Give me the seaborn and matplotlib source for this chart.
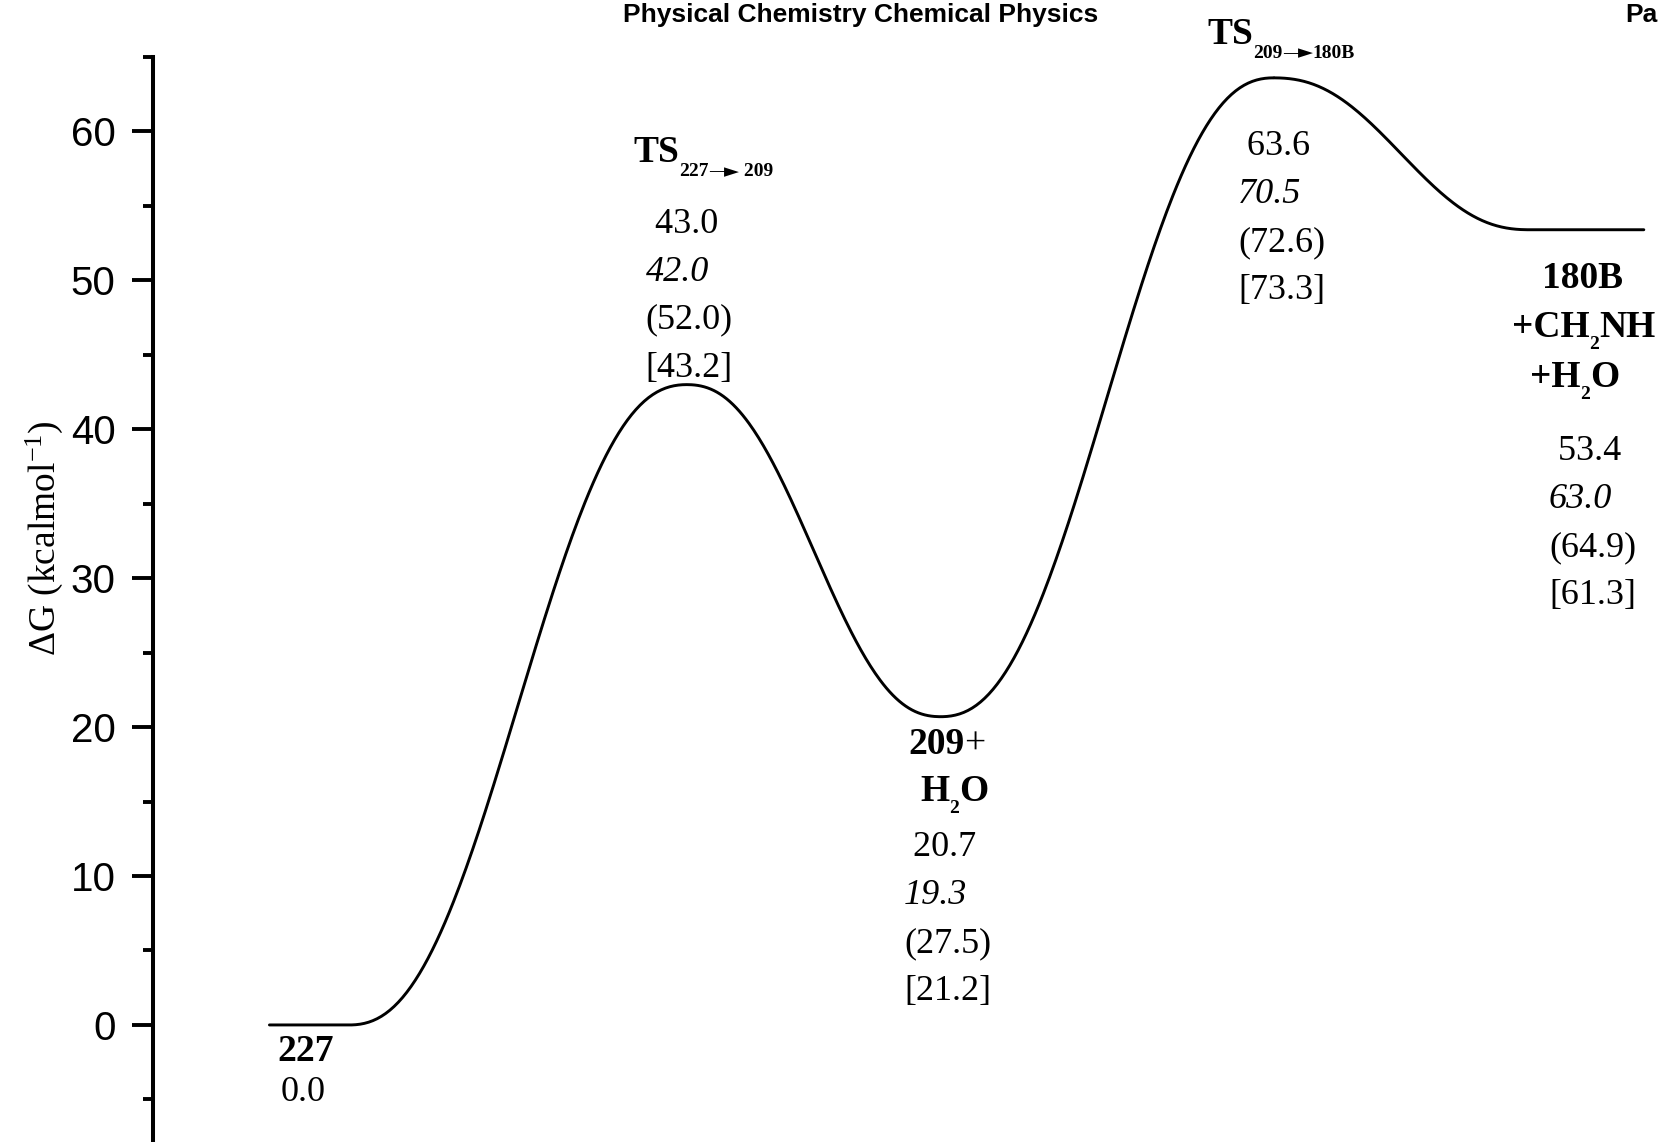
import numpy as np
import pandas as pd
import matplotlib
matplotlib.use("Agg")
import matplotlib.pyplot as plt
import seaborn as sns
from matplotlib.ticker import MultipleLocator

# Free-energy levels (kcal/mol) of the stationary points along the path
energy = [0.0, 43.0, 20.7, 63.6, 53.4]
energy_italic = [None, 42.0, 19.3, 70.5, 63.0]
energy_paren = [None, 52.0, 27.5, 72.6, 64.9]
energy_bracket = [None, 43.2, 21.2, 73.3, 61.3]

# Reaction-coordinate knots of the profile: flat start, TS1, intermediate, TS2, flat end
reaction_coord = [0.77, 1.30, 3.53, 5.21, 7.41, 9.10, 9.86]
profile_energy = [energy[0], energy[0], energy[1], energy[2], energy[3], energy[4], energy[4]]

yticks = [0, 10, 20, 30, 40, 50, 60]

SERIF = ["Liberation Serif", "DejaVu Serif"]
SANS = ["Liberation Sans", "DejaVu Sans"]
SYMBOL = ["DejaVu Sans"]

sns.set_theme(style="ticks")
plt.rcParams["font.family"] = SANS
plt.rcParams["mathtext.fontset"] = "custom"
plt.rcParams["mathtext.rm"] = "Liberation Serif"
plt.rcParams["mathtext.it"] = "Liberation Serif:italic"
plt.rcParams["mathtext.bf"] = "Liberation Serif:bold"

W, H, DPI = 1665, 1142, 100
fig = plt.figure(figsize=(W / DPI, H / DPI), dpi=DPI, facecolor="white")
ax = fig.add_axes([153 / W, 0.0, 1512 / W, 1085 / H])
ax.set_facecolor("white")


def smooth_path(xk, yk, n=160):
    """Join consecutive knots with an S-shaped easing so each level is a smooth extremum."""
    xs, ys = [], []
    for i in range(len(xk) - 1):
        t = np.linspace(0, 1, n)
        s5 = t ** 3 * (t * (6 * t - 15) + 10)
        s3 = t * t * (3 - 2 * t)
        s = 0.65 * s5 + 0.35 * s3
        xs.append(xk[i] + t * (xk[i + 1] - xk[i]))
        ys.append(yk[i] + s * (yk[i + 1] - yk[i]))
    return np.concatenate(xs), np.concatenate(ys)


px, py = smooth_path(reaction_coord, profile_energy)
profile = pd.DataFrame({"coord": px, "dG": py})
sns.lineplot(data=profile, x="coord", y="dG", color="black", linewidth=2.1,
             sort=False, estimator=None, ax=ax)

ax.set_xlim(0, 10)
ax.set_ylim(-7.86, 65)
for side in ("top", "right", "bottom"):
    ax.spines[side].set_visible(False)
ax.spines["left"].set_linewidth(2.9)
ax.spines["left"].set_color("black")
ax.set_xticks([])
ax.set_xlabel("")
ax.set_yticks(yticks)
ax.yaxis.set_minor_locator(MultipleLocator(5))
ax.tick_params(axis="y", which="major", direction="out", length=15, width=2.8,
               pad=12, labelsize=29, colors="black")
ax.tick_params(axis="y", which="minor", direction="out", length=7.5, width=2.8,
               colors="black")
for lab in ax.get_yticklabels():
    lab.set_family(SANS)

ax.set_ylabel(r"$\Delta$G (kcalmol$^{\mathregular{-1}}$)", family=SERIF,
              fontsize=27, color="black")
ax.yaxis.set_label_coords(-0.058, 0.557)

# Journal running header
fig.text(623 / W, 1 - 22 / H, "Physical Chemistry Chemical Physics", family=SANS,
         fontweight="bold", fontsize=19, ha="left", va="baseline", color="black")
fig.text(1625 / W, 1 - 22 / H, "Pa", family=SANS, fontweight="bold",
         fontsize=19, ha="left", va="baseline", color="black")

fig.canvas.draw()
renderer = fig.canvas.get_renderer()


def place(x, y, pieces, dy=0.0):
    """Write text pieces left to right from a data anchor, each with its own size and shift."""
    X, Y = ax.transData.transform((x, y))
    Y += dy
    for piece in pieces:
        text, size, shift, weight, style = piece[:5]
        family = piece[5] if len(piece) > 5 else SERIF
        X += piece[6] if len(piece) > 6 else 0
        t = fig.text(X / W, (Y + shift) / H, text, family=family, fontsize=size,
                     fontweight=weight, fontstyle=style, ha="left",
                     va="baseline", color="black")
        X = t.get_window_extent(renderer).x1


def value_block(x, y, idx, dy=0.0):
    rows = [(" " + f"{energy[idx]:.1f}", "normal"),
            (f"{energy_italic[idx]:.1f}", "italic"),
            (f"({energy_paren[idx]:.1f})", "normal"),
            (f"[{energy_bracket[idx]:.1f}]", "normal")]
    for i, (txt, style) in enumerate(rows):
        place(x, y, [(txt, 26, 0, "normal", style)], dy=dy - 48 * i)


BIG, SUB, LBL = 27, 14, 27
# arrow built from a bold dash and a solid pointer
ARROW = [("\u2014", SUB, -14, "bold", "normal", SERIF, 1),
         ("\u25ba", SUB, -14.5, "normal", "normal", SYMBOL, -5)]

# 227
place(0.820, -2.42, [("227", LBL, 0, "bold", "normal")])
place(0.847, -5.10, [(f"{energy[0]:.1f}", 26, 0, "normal", "normal")])

# TS 227 -> 209
ts1_up = 18
place(3.175, 56.72, [("TS", BIG, 0, "bold", "normal"),
                     ("227", SUB, -14, "bold", "normal"), *ARROW,
                     (" 209", SUB, -14, "bold", "normal")], dy=ts1_up)
value_block(3.258, 52.0, 1, dy=ts1_up)

# 209 + H2O
int_down = -5
place(4.993, 18.56, [("209", LBL, 0, "bold", "normal"), ("+", LBL, 0, "normal", "normal")],
      dy=int_down)
place(5.073, 15.38, [("H", LBL, 0, "bold", "normal"), ("2", SUB, -12, "bold", "normal"),
                     ("O", LBL, 0, "bold", "normal")], dy=int_down)
value_block(4.967, 11.65, 2, dy=int_down)

# TS 209 -> 180B
place(6.971, 65.86, [("TS", BIG, 0, "bold", "normal"),
                     ("209", SUB, -14, "bold", "normal"), *ARROW,
                     ("180B", SUB, -14, "bold", "normal")])
value_block(7.176, 58.43, 3)

# 180B + CH2NH + H2O
place(9.187, 49.50, [("180B", LBL, 0, "bold", "normal")])
place(8.988, 46.23, [("+CH", LBL, 0, "bold", "normal"), ("2", SUB, -12, "bold", "normal"),
                     ("NH", LBL, 0, "bold", "normal")])
place(9.107, 42.81, [("+H", LBL, 0, "bold", "normal"), ("2", SUB, -12, "bold", "normal"),
                     ("O", LBL, 0, "bold", "normal")])
value_block(9.233, 37.94, 4)

fig.savefig("out.png", dpi=DPI, facecolor="white")
